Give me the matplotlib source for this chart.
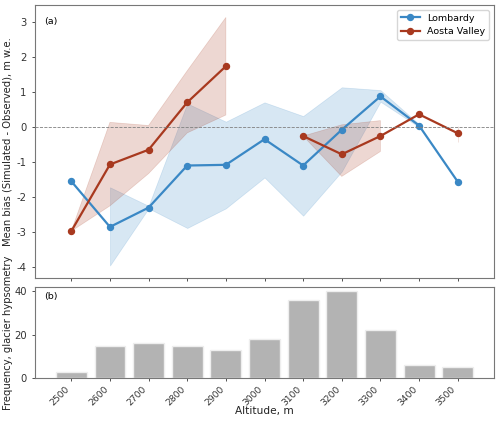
import numpy as np
import matplotlib
matplotlib.use("Agg")
import matplotlib.pyplot as plt

nan = np.nan
altitudes = [2500, 2600, 2700, 2800, 2900, 3000, 3100, 3200, 3300, 3400, 3500]
tick_labels = [str(a) for a in altitudes]

lomb_mean = [-1.55, -2.85, -2.3, -1.1, -1.08, -0.35, -1.1, -0.08, 0.87, 0.04, -1.56]
lomb_low = [nan, -3.95, -2.32, -2.88, -2.32, -1.44, -2.53, -1.27, 0.72, 0.0, nan]
lomb_high = [nan, -1.72, -2.25, 0.67, 0.15, 0.70, 0.31, 1.13, 1.05, 0.08, nan]

aosta_mean = [-2.97, -1.07, -0.65, 0.70, 1.73, nan, -0.26, -0.78, -0.26, 0.36, -0.18]
aosta_low = [-2.97, -2.25, -1.33, -0.17, 0.34, nan, -0.26, -1.41, -0.70, nan, -0.42]
aosta_high = [-2.97, 0.13, 0.04, 1.60, 3.12, nan, -0.26, 0.06, 0.18, nan, 0.03]

frequency = [3, 15, 16, 15, 13, 18, 36, 40, 22, 6, 5]

blue = "#3a88c5"
red = "#a8391f"
fs = 7.2

plt.rcParams["axes.unicode_minus"] = False
plt.rcParams["xtick.major.size"] = 2.5
plt.rcParams["ytick.major.size"] = 2.5
plt.rcParams["xtick.major.width"] = 0.6
plt.rcParams["ytick.major.width"] = 0.6

fig = plt.figure(figsize=(5.0, 4.23), dpi=100)
ax1 = fig.add_axes([0.07, 0.343, 0.918, 0.645])
ax2 = fig.add_axes([0.07, 0.106, 0.918, 0.2155], sharex=ax1)

x = np.array(altitudes, dtype=float)
ax1.fill_between(x, lomb_low, lomb_high, color=blue, alpha=0.2, linewidth=0.5)
ax1.fill_between(x, aosta_low, aosta_high, color=red, alpha=0.2, linewidth=0.5)
ax1.plot(x, lomb_mean, "-o", color=blue, lw=1.6, ms=4.3, label="Lombardy")
ax1.plot(x, aosta_mean, "-o", color=red, lw=1.6, ms=4.3, label="Aosta Valley")
ax1.axhline(0, color="gray", ls="--", lw=0.6)
ax1.set_ylabel("Mean bias (Simulated - Observed), m w.e.", fontsize=fs, color="#222222")
ax1.yaxis.set_label_coords(-0.048, 0.5)
ax1.legend(loc="upper right", fontsize=6.8)
ax1.text(0.02, 0.955, "(a)", transform=ax1.transAxes, fontsize=6.8, va="top")
ax1.tick_params(labelsize=fs, labelbottom=False, colors="#333333")

ax2.bar(x, frequency, width=80, color="#b3b3b3", edgecolor="#eeeeee", linewidth=1)
ax2.set_ylabel("Frequency, glacier hypsometry", fontsize=fs, color="#222222")
ax2.yaxis.set_label_coords(-0.048, 0.5)
ax2.set_xlabel("Altitude, m", fontsize=fs + 0.4, color="#222222")
ax2.xaxis.set_label_coords(0.5, -0.3)
ax2.set_xticks(x)
ax2.set_xticklabels(tick_labels, rotation=45, ha="right")
ax2.tick_params(axis="y", labelsize=fs, colors="#333333")
ax2.tick_params(axis="x", labelsize=6.6, colors="#333333", pad=2)
ax2.text(0.02, 0.95, "(b)", transform=ax2.transAxes, fontsize=6.8, va="top")

for ax in (ax1, ax2):
    for s in ax.spines.values():
        s.set_color("#777777")
        s.set_linewidth(0.8)

fig.savefig("out.png", dpi=100)
